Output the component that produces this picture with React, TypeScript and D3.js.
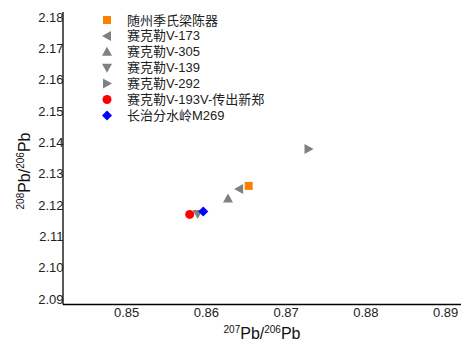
import React from "react";
import * as d3 from "d3";

const W = 461;
const H = 342;

// Lead isotope ratios per sample
const seriesNames = [
  "随州季氏梁陈器",
  "赛克勒V-173",
  "赛克勒V-305",
  "赛克勒V-139",
  "赛克勒V-292",
  "赛克勒V-193V-传出新郑",
  "长治分水岭M269",
];
const pb207_206 = [0.8653, 0.8641, 0.8627, 0.8589, 0.8728, 0.8579, 0.8596];
const pb208_206 = [2.1261, 2.1251, 2.1221, 2.1171, 2.1379, 2.117, 2.1179];
const markerShapes = ["square", "left", "up", "down", "right", "circle", "diamond"];
const markerColors = ["#ff8000", "#808080", "#808080", "#808080", "#808080", "#ff0000", "#0000ff"];

const xTicks = [0.85, 0.86, 0.87, 0.88, 0.89];
const yTicks = [2.09, 2.1, 2.11, 2.12, 2.13, 2.14, 2.15, 2.16, 2.17, 2.18];

const FONT = "'Liberation Sans', Arial, 'Noto Sans CJK SC', sans-serif";

function marker(shape: string, cx: number, cy: number, color: string) {
  const s = 5;
  switch (shape) {
    case "square":
      return <rect x={cx - 4} y={cy - 4} width={8} height={8} fill={color} />;
    case "circle":
      return <circle cx={cx} cy={cy} r={4.5} fill={color} />;
    case "diamond":
      return <path d={`M${cx},${cy - 5}L${cx + 5},${cy}L${cx},${cy + 5}L${cx - 5},${cy}Z`} fill={color} />;
    case "up":
      return <path d={`M${cx},${cy - s}L${cx + s},${cy + s * 0.8}L${cx - s},${cy + s * 0.8}Z`} fill={color} />;
    case "down":
      return <path d={`M${cx},${cy + s}L${cx + s},${cy - s * 0.8}L${cx - s},${cy - s * 0.8}Z`} fill={color} />;
    case "left":
      return <path d={`M${cx - s},${cy}L${cx + s * 0.8},${cy - s}L${cx + s * 0.8},${cy + s}Z`} fill={color} />;
    case "right":
      return <path d={`M${cx + s},${cy}L${cx - s * 0.8},${cy - s}L${cx - s * 0.8},${cy + s}Z`} fill={color} />;
    default:
      return null;
  }
}

export default function App() {
  const left = 63;
  const right = 461;
  const top = 12;
  const bottom = 304.5;

  const x = d3.scaleLinear().domain([0.85, 0.89]).range([126.7, 445.7]);
  const y = d3.scaleLinear().domain([2.09, 2.18]).range([299, 17]);

  return (
    <svg
      width={W}
      height={H}
      style={{ position: "absolute", left: 0, top: 0, background: "#fff" }}
      fontFamily={FONT}
    >
      {/* axes */}
      <line x1={left} y1={top} x2={left} y2={bottom} stroke="#000" strokeWidth={1.3} />
      <line x1={left} y1={bottom} x2={right} y2={bottom} stroke="#000" strokeWidth={1.3} />

      {yTicks.map((t) => (
        <text key={t} x={left + 0.5} y={y(t)} dy="0.35em" textAnchor="end" fontSize={13} fill="#222">
          {t.toFixed(2)}
        </text>
      ))}
      {xTicks.map((t) => (
        <text key={t} x={x(t)} y={312} dy="0.35em" textAnchor="middle" fontSize={13} fill="#222">
          {t.toFixed(2)}
        </text>
      ))}

      {/* axis titles */}
      <text x={262} y={339} textAnchor="middle" fontSize={16} fill="#111">
        <tspan fontSize={10} dy={-6}>207</tspan>
        <tspan dy={6}>Pb/</tspan>
        <tspan fontSize={10} dy={-6}>206</tspan>
        <tspan dy={6}>Pb</tspan>
      </text>
      <text transform="translate(30,171) rotate(-90)" textAnchor="middle" fontSize={16} fill="#111">
        <tspan fontSize={10} dy={-6}>208</tspan>
        <tspan dy={6}>Pb/</tspan>
        <tspan fontSize={10} dy={-6}>206</tspan>
        <tspan dy={6}>Pb</tspan>
      </text>

      {/* data points */}
      {seriesNames.map((name, i) => (
        <g key={name}>{marker(markerShapes[i], x(pb207_206[i]), y(pb208_206[i]), markerColors[i])}</g>
      ))}

      {/* legend */}
      {seriesNames.map((name, i) => {
        const ly = 20 + i * 15.9;
        return (
          <g key={"lg" + name}>
            {marker(markerShapes[i], 107, ly, markerColors[i])}
            <text x={127} y={ly} dy="0.35em" fontSize={13} fill="#222">
              {name}
            </text>
          </g>
        );
      })}
    </svg>
  );
}
